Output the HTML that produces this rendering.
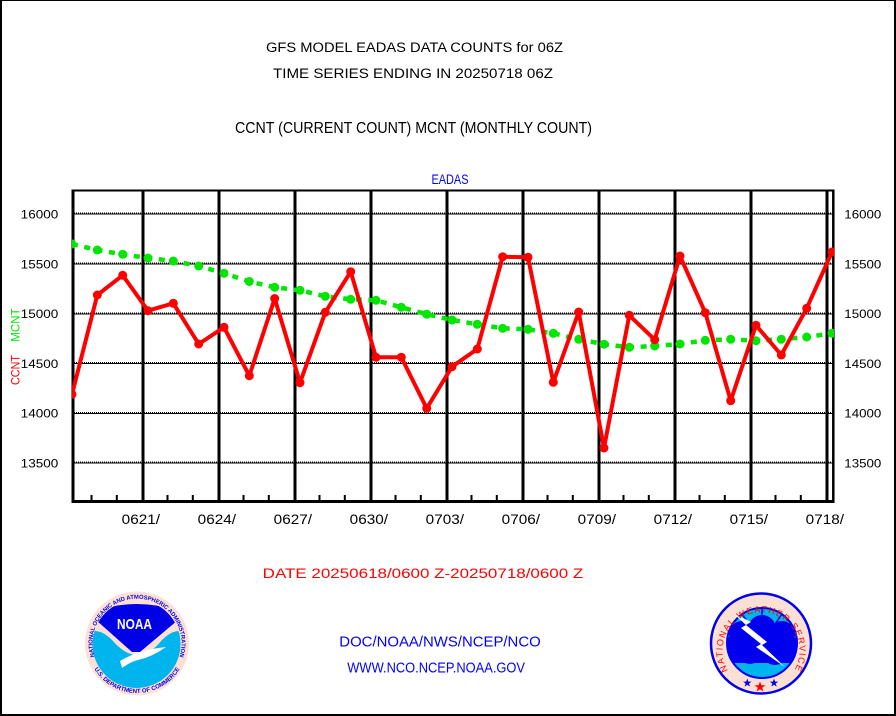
<!DOCTYPE html>
<html><head><meta charset="utf-8"><style>
html,body{margin:0;padding:0;background:#fff;}
svg{display:block;}
text{font-family:"Liberation Sans",sans-serif;}
</style></head><body>
<svg width="896" height="716" viewBox="0 0 896 716" xmlns="http://www.w3.org/2000/svg">
<rect x="0" y="0" width="896" height="716" fill="#fff"/>
<rect x="0" y="0" width="2" height="716" fill="#000"/>
<rect x="0" y="0" width="896" height="1" fill="#000"/>
<rect x="894" y="0" width="2" height="716" fill="#000"/>
<rect x="0" y="714" width="896" height="2" fill="#000"/>

<text x="266" y="52" font-size="13.5" textLength="297" lengthAdjust="spacingAndGlyphs" fill="#000">GFS MODEL EADAS DATA COUNTS for 06Z</text>
<text x="273" y="78" font-size="13.5" textLength="280" lengthAdjust="spacingAndGlyphs" fill="#000">TIME SERIES ENDING IN 20250718 06Z</text>
<text x="235" y="133" font-size="16" textLength="357" lengthAdjust="spacingAndGlyphs" fill="#000">CCNT (CURRENT COUNT) MCNT (MONTHLY COUNT)</text>
<text x="431.5" y="184" font-size="13.5" textLength="37" lengthAdjust="spacingAndGlyphs" fill="#0000ff">EADAS</text>

<g stroke="#000">
  <g stroke-width="1">
    <line x1="72" y1="214" x2="834" y2="214"/>
    <line x1="72" y1="264" x2="834" y2="264"/>
    <line x1="72" y1="314" x2="834" y2="314"/>
    <line x1="72" y1="363.5" x2="834" y2="363.5"/>
    <line x1="72" y1="413.5" x2="834" y2="413.5"/>
    <line x1="72" y1="463" x2="834" y2="463"/>
  </g>
  <g stroke-width="1" stroke-dasharray="1 1">
    <line x1="72" y1="213" x2="834" y2="213"/>
    <line x1="72" y1="263" x2="834" y2="263"/>
    <line x1="72" y1="313" x2="834" y2="313"/>
    <line x1="72" y1="362.5" x2="834" y2="362.5"/>
    <line x1="72" y1="412.5" x2="834" y2="412.5"/>
    <line x1="72" y1="462" x2="834" y2="462"/>
  </g>
</g>

<g stroke="#000" stroke-width="3">
  <line x1="143" y1="190" x2="143" y2="502"/>
  <line x1="219" y1="190" x2="219" y2="502"/>
  <line x1="295" y1="190" x2="295" y2="502"/>
  <line x1="371" y1="190" x2="371" y2="502"/>
  <line x1="447" y1="190" x2="447" y2="502"/>
  <line x1="523" y1="190" x2="523" y2="502"/>
  <line x1="599" y1="190" x2="599" y2="502"/>
  <line x1="675" y1="190" x2="675" y2="502"/>
  <line x1="751" y1="190" x2="751" y2="502"/>
  <line x1="827" y1="190" x2="827" y2="502"/>
</g>
<g stroke="#000" stroke-width="2">
  <line x1="91.5" y1="495" x2="91.5" y2="501"/>
  <line x1="116.8" y1="495" x2="116.8" y2="501"/>
  <line x1="167.5" y1="495" x2="167.5" y2="501"/>
  <line x1="192.8" y1="495" x2="192.8" y2="501"/>
  <line x1="243.5" y1="495" x2="243.5" y2="501"/>
  <line x1="268.8" y1="495" x2="268.8" y2="501"/>
  <line x1="319.5" y1="495" x2="319.5" y2="501"/>
  <line x1="344.8" y1="495" x2="344.8" y2="501"/>
  <line x1="395.5" y1="495" x2="395.5" y2="501"/>
  <line x1="420.8" y1="495" x2="420.8" y2="501"/>
  <line x1="471.5" y1="495" x2="471.5" y2="501"/>
  <line x1="496.8" y1="495" x2="496.8" y2="501"/>
  <line x1="547.5" y1="495" x2="547.5" y2="501"/>
  <line x1="572.8" y1="495" x2="572.8" y2="501"/>
  <line x1="623.5" y1="495" x2="623.5" y2="501"/>
  <line x1="648.8" y1="495" x2="648.8" y2="501"/>
  <line x1="699.5" y1="495" x2="699.5" y2="501"/>
  <line x1="724.8" y1="495" x2="724.8" y2="501"/>
  <line x1="775.5" y1="495" x2="775.5" y2="501"/>
  <line x1="800.8" y1="495" x2="800.8" y2="501"/>
</g>

<g stroke="#000">
  <line x1="72" y1="190.5" x2="834.5" y2="190.5" stroke-width="2"/>
  <line x1="73" y1="189.5" x2="73" y2="503" stroke-width="3"/>
  <line x1="833.3" y1="189.5" x2="833.3" y2="503" stroke-width="2.5"/>
  <line x1="71.5" y1="501.5" x2="834.5" y2="501.5" stroke-width="3"/>
</g>

<defs>
  <clipPath id="plotclip"><rect x="72" y="190" width="762" height="312"/></clipPath>
</defs>

<g clip-path="url(#plotclip)">
<polyline fill="none" stroke="#00e600" stroke-width="4.5" stroke-dasharray="6 6.6"
 points="72,244 97.3,250 122.7,254.3 148,258 173.3,261 198.7,266 224,273.3 249.3,281.5 274.7,287.3 300,290.3 325.3,296.3 350.7,299.3 376,300.3 401.3,307.3 426.7,314.2 452,320 477.3,324.3 502.7,328.3 528,329.3 553.3,333.3 578.7,339.3 604,344.2 629.3,347.3 654.7,346 680,344 705.3,340.3 730.7,339.3 756,340.7 781.3,339.3 806.7,337 832,333.3"/>
<g fill="#00e600">
  <circle cx="72" cy="244" r="4.5"/><circle cx="97.3" cy="250" r="4.5"/><circle cx="122.7" cy="254.3" r="4.5"/><circle cx="148" cy="258" r="4.5"/><circle cx="173.3" cy="261" r="4.5"/><circle cx="198.7" cy="266" r="4.5"/><circle cx="224" cy="273.3" r="4.5"/><circle cx="249.3" cy="281.5" r="4.5"/><circle cx="274.7" cy="287.3" r="4.5"/><circle cx="300" cy="290.3" r="4.5"/><circle cx="325.3" cy="296.3" r="4.5"/><circle cx="350.7" cy="299.3" r="4.5"/><circle cx="376" cy="300.3" r="4.5"/><circle cx="401.3" cy="307.3" r="4.5"/><circle cx="426.7" cy="314.2" r="4.5"/><circle cx="452" cy="320" r="4.5"/><circle cx="477.3" cy="324.3" r="4.5"/><circle cx="502.7" cy="328.3" r="4.5"/><circle cx="528" cy="329.3" r="4.5"/><circle cx="553.3" cy="333.3" r="4.5"/><circle cx="578.7" cy="339.3" r="4.5"/><circle cx="604" cy="344.2" r="4.5"/><circle cx="629.3" cy="347.3" r="4.5"/><circle cx="654.7" cy="346" r="4.5"/><circle cx="680" cy="344" r="4.5"/><circle cx="705.3" cy="340.3" r="4.5"/><circle cx="730.7" cy="339.3" r="4.5"/><circle cx="756" cy="340.7" r="4.5"/><circle cx="781.3" cy="339.3" r="4.5"/><circle cx="806.7" cy="337" r="4.5"/><circle cx="832" cy="333.3" r="4.5"/>
</g>
<polyline fill="none" stroke="#ff0000" stroke-width="4" stroke-linejoin="round"
 points="72,394.3 97.3,295 122.7,275.3 148,310.7 173.3,303.3 198.7,344 224,327.3 249.3,375.7 274.7,298.5 300,382.7 325.3,312.3 350.7,271.7 376,357.3 401.3,357.3 426.7,408.3 452,366.7 477.3,349 502.7,256.7 528,257.3 553.3,382.3 578.7,312 604,448 629.3,315.3 654.7,339.7 680,256 705.3,312.7 730.7,400.7 756,325.3 781.3,355 806.7,308.3 832,252"/>
<g fill="#ff0000">
  <circle cx="72" cy="394.3" r="4.5"/><circle cx="97.3" cy="295" r="4.5"/><circle cx="122.7" cy="275.3" r="4.5"/><circle cx="148" cy="310.7" r="4.5"/><circle cx="173.3" cy="303.3" r="4.5"/><circle cx="198.7" cy="344" r="4.5"/><circle cx="224" cy="327.3" r="4.5"/><circle cx="249.3" cy="375.7" r="4.5"/><circle cx="274.7" cy="298.5" r="4.5"/><circle cx="300" cy="382.7" r="4.5"/><circle cx="325.3" cy="312.3" r="4.5"/><circle cx="350.7" cy="271.7" r="4.5"/><circle cx="376" cy="357.3" r="4.5"/><circle cx="401.3" cy="357.3" r="4.5"/><circle cx="426.7" cy="408.3" r="4.5"/><circle cx="452" cy="366.7" r="4.5"/><circle cx="477.3" cy="349" r="4.5"/><circle cx="502.7" cy="256.7" r="4.5"/><circle cx="528" cy="257.3" r="4.5"/><circle cx="553.3" cy="382.3" r="4.5"/><circle cx="578.7" cy="312" r="4.5"/><circle cx="604" cy="448" r="4.5"/><circle cx="629.3" cy="315.3" r="4.5"/><circle cx="654.7" cy="339.7" r="4.5"/><circle cx="680" cy="256" r="4.5"/><circle cx="705.3" cy="312.7" r="4.5"/><circle cx="730.7" cy="400.7" r="4.5"/><circle cx="756" cy="325.3" r="4.5"/><circle cx="781.3" cy="355" r="4.5"/><circle cx="806.7" cy="308.3" r="4.5"/><circle cx="832" cy="252" r="4.5"/>
</g>
</g>

<g font-size="12" fill="#000">
  <text x="20.7" y="218.5" textLength="37.6" lengthAdjust="spacingAndGlyphs">16000</text>
  <text x="20.7" y="268.3" textLength="37.6" lengthAdjust="spacingAndGlyphs">15500</text>
  <text x="20.7" y="318.1" textLength="37.6" lengthAdjust="spacingAndGlyphs">15000</text>
  <text x="20.7" y="367.9" textLength="37.6" lengthAdjust="spacingAndGlyphs">14500</text>
  <text x="20.7" y="417.7" textLength="37.6" lengthAdjust="spacingAndGlyphs">14000</text>
  <text x="20.7" y="467.5" textLength="37.6" lengthAdjust="spacingAndGlyphs">13500</text>
</g>
<g font-size="12" fill="#000">
  <text x="844.3" y="218.5" textLength="37" lengthAdjust="spacingAndGlyphs">16000</text>
  <text x="844.3" y="268.3" textLength="37" lengthAdjust="spacingAndGlyphs">15500</text>
  <text x="844.3" y="318.1" textLength="37" lengthAdjust="spacingAndGlyphs">15000</text>
  <text x="844.3" y="367.9" textLength="37" lengthAdjust="spacingAndGlyphs">14500</text>
  <text x="844.3" y="417.7" textLength="37" lengthAdjust="spacingAndGlyphs">14000</text>
  <text x="844.3" y="467.5" textLength="37" lengthAdjust="spacingAndGlyphs">13500</text>
</g>

<text transform="translate(19.5,385) rotate(-90)" font-size="12"><tspan fill="#ff0000" textLength="30" lengthAdjust="spacingAndGlyphs">CCNT</tspan><tspan x="43.3" fill="#00e600" textLength="33.4" lengthAdjust="spacingAndGlyphs">MCNT</tspan></text>

<g font-size="14" fill="#000">
  <text x="121.7" y="524" textLength="38.3" lengthAdjust="spacingAndGlyphs">0621/</text>
  <text x="197.7" y="524" textLength="38.3" lengthAdjust="spacingAndGlyphs">0624/</text>
  <text x="273.7" y="524" textLength="38.3" lengthAdjust="spacingAndGlyphs">0627/</text>
  <text x="349.7" y="524" textLength="38.3" lengthAdjust="spacingAndGlyphs">0630/</text>
  <text x="425.7" y="524" textLength="38.3" lengthAdjust="spacingAndGlyphs">0703/</text>
  <text x="501.7" y="524" textLength="38.3" lengthAdjust="spacingAndGlyphs">0706/</text>
  <text x="577.7" y="524" textLength="38.3" lengthAdjust="spacingAndGlyphs">0709/</text>
  <text x="653.7" y="524" textLength="38.3" lengthAdjust="spacingAndGlyphs">0712/</text>
  <text x="729.7" y="524" textLength="38.3" lengthAdjust="spacingAndGlyphs">0715/</text>
  <text x="805.7" y="524" textLength="38.3" lengthAdjust="spacingAndGlyphs">0718/</text>
</g>

<text x="262.7" y="578" font-size="14" fill="#ff0000" textLength="320.6" lengthAdjust="spacingAndGlyphs">DATE 20250618/0600 Z-20250718/0600 Z</text>
<text x="339.3" y="646.7" font-size="14.5" fill="#0000ff" textLength="201.4" lengthAdjust="spacingAndGlyphs">DOC/NOAA/NWS/NCEP/NCO</text>
<text x="347.3" y="672.3" font-size="14.5" fill="#0000ff" textLength="177.7" lengthAdjust="spacingAndGlyphs">WWW.NCO.NCEP.NOAA.GOV</text>

<!-- NOAA logo -->
<g>
  <defs>
    <clipPath id="noaainner"><circle cx="136.5" cy="644" r="44"/></clipPath>
    <path id="noaatop" d="M98.5,665.5 A44.5,44.5 0 1 1 175.5,665.5"/>
    <path id="noaabot" d="M93.7,668 A50,50 0 0 0 180.3,668"/>
  </defs>
  <circle cx="137" cy="643.5" r="52" fill="#fde0d4"/>
  <g clip-path="url(#noaainner)">
    <path d="M90,632 Q100,628 112,640 Q125,655 137,655 Q150,655 162,640 Q174,628 184,632 L184,690 L90,690 Z" fill="#00b4ee"/>
    <path d="M92,612 Q137,596 182,612 L178,620 L140,652 L132,652 L96,620 Z" fill="#0000e6"/>
    <path d="M120,661 Q138,650 166,647 Q152,657 138,660 Q130,662 122,668 Z" fill="#fff"/>
  </g>
  <text x="117" y="629" font-size="15" font-weight="bold" fill="#fff" textLength="35" lengthAdjust="spacingAndGlyphs">NOAA</text>
  <text font-size="5.8" fill="#0000e6" font-weight="bold"><textPath href="#noaatop" startOffset="50%" text-anchor="middle">NATIONAL OCEANIC AND ATMOSPHERIC ADMINISTRATION</textPath></text>
  <text font-size="6" fill="#0000e6" font-weight="bold"><textPath href="#noaabot" startOffset="50%" text-anchor="middle">U.S. DEPARTMENT OF COMMERCE</textPath></text>
</g>

<!-- NWS logo -->
<g>
  <defs>
    <clipPath id="nwsinner"><circle cx="762" cy="643" r="35"/></clipPath>
    <path id="nwstext" d="M731,675 A38.5,38.5 0 1 1 791,675"/>
  </defs>
  <circle cx="761" cy="643.5" r="50" fill="#fde0d4" stroke="#0000ee" stroke-width="2.5"/>
  <circle cx="762" cy="643" r="35" fill="#00b4ee" stroke="#0000ee" stroke-width="2"/>
  <g stroke="#0000ee" stroke-width="1.5">
    <line x1="762" y1="643" x2="762" y2="608"/>
    <line x1="762" y1="643" x2="742" y2="614"/>
    <line x1="762" y1="643" x2="782" y2="614"/>
    <line x1="762" y1="643" x2="731" y2="628"/>
    <line x1="762" y1="643" x2="793" y2="628"/>
  </g>
  <g fill="#0000ee" clip-path="url(#nwsinner)">
    <circle cx="742" cy="634" r="13"/>
    <circle cx="762" cy="629" r="14"/>
    <circle cx="782" cy="634" r="13"/>
    <circle cx="792" cy="647" r="10"/>
    <circle cx="729" cy="648" r="11"/>
    <circle cx="750" cy="650" r="14"/>
    <circle cx="775" cy="651" r="14"/>
    <rect x="726" y="655" width="72" height="8"/>
  </g>
  <path d="M733,613 L751,622 L746,625 L767,642 L762,645 L785,667 L756,647 L761,644 L741,628 L746,625 Z" fill="#fff"/>
  <text font-size="9" fill="#ff0000" letter-spacing="1.2"><textPath href="#nwstext" startOffset="50%" text-anchor="middle">NATIONAL WEATHER SERVICE</textPath></text>
  <polygon fill="#0000ee" points="747.3,678.5 748.4,681.6 751.6,681.6 749,683.5 750,686.6 747.3,684.7 744.6,686.6 745.6,683.5 743,681.6 746.2,681.6"/>
  <polygon fill="#ff0000" points="760,681.5 761.4,685.3 765.4,685.3 762.2,687.7 763.4,691.5 760,689.2 756.6,691.5 757.8,687.7 754.6,685.3 758.6,685.3"/>
  <polygon fill="#0000ee" points="774,678.5 775.1,681.6 778.3,681.6 775.7,683.5 776.7,686.6 774,684.7 771.3,686.6 772.3,683.5 769.7,681.6 772.9,681.6"/>
</g>
</svg>
</body></html>
